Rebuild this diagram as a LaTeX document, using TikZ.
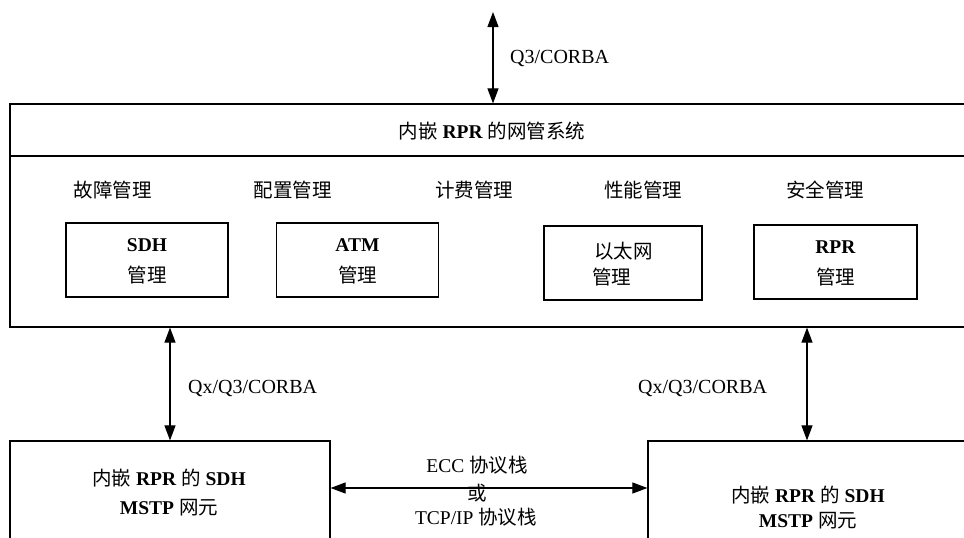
\documentclass[tikz,border=0pt]{standalone}
\usepackage{fontspec}
\setmainfont{Liberation Serif}
\newfontfamily\cjkfont{Noto Sans CJK SC}
\newcommand\zh[1]{{\cjkfont #1}}
\usetikzlibrary{arrows.meta}
\begin{document}
\begin{tikzpicture}[x=1pt,y=-1pt,
  frame/.style={draw, line width=1.2pt, inner sep=0pt},
  mbox/.style={draw, line width=1.2pt, minimum width=162pt, minimum height=74pt, inner sep=0pt},
  txt/.style={font=\fontsize{19.5}{22}\selectfont, inner sep=0pt},
  lbl/.style={font=\fontsize{20}{22}\selectfont, inner sep=0pt},
  link/.style={line width=1.1pt, {Triangle[length=15pt,width=11pt]}-{Triangle[length=15pt,width=11pt]}}
]
\useasboundingbox (0,0) rectangle (964,538);
\clip (0,0) rectangle (964,538);

% main management system box
\node[frame, minimum width=970pt, minimum height=223pt] (main) at (495,215.5) {};
\coordinate (dv) at (0,156);
\draw[line width=1.2pt] (main.west |- dv) -- (main.east |- dv);
\node[txt] (title) at (492,131) {\zh{内嵌} \textbf{RPR} \zh{的网管系统}};

% function labels
\node[txt] (f1) at (112.5,190) {\zh{故障管理}};
\node[txt] (f2) at (292.5,190) {\zh{配置管理}};
\node[txt] (f3) at (474,190) {\zh{计费管理}};
\node[txt] (f4) at (643,190) {\zh{性能管理}};
\node[txt] (f5) at (825,190) {\zh{安全管理}};

% management boxes
\node[mbox] (sdh) at (147,260) {};
\node[txt] (sdh1) at (147,245) {\textbf{SDH}};
\node[txt] (sdh2) at (147,275) {\zh{管理}};

\node[mbox] (atm) at (357.5,260) {};
\node[txt] (atm1) at (357.5,245) {\textbf{ATM}};
\node[txt] (atm2) at (357.5,275) {\zh{管理}};

\node[mbox, minimum width=158pt] (eth) at (623,263) {};
\node[txt] (eth1) at (623.5,251) {\zh{以太网}};
\node[txt, anchor=west] (eth2) at (592,277) {\zh{管理}};

\node[mbox, minimum width=163pt] (rpr) at (835.5,262) {};
\node[txt] (rpr1) at (835.5,247) {\textbf{RPR}};
\node[txt] (rpr2) at (835.5,277) {\zh{管理}};

% network elements
\node[frame, minimum width=320pt, minimum height=129pt] (lne) at (170,505.5) {};
\node[txt] (lne1) at (169,478) {\zh{内嵌} \textbf{RPR} \zh{的} \textbf{SDH}};
\node[txt] (lne2) at (169,508) {\textbf{MSTP} \zh{网元}};

\node[frame, minimum width=332pt, minimum height=129pt] (rne) at (814,505.5) {};
\node[txt] (rne1) at (808,495) {\zh{内嵌} \textbf{RPR} \zh{的} \textbf{SDH}};
\node[txt] (rne2) at (808,521) {\textbf{MSTP} \zh{网元}};

% connectors
\coordinate (ta) at (493,12);
\draw[link] (ta) -- (ta |- main.north);
\node[lbl, anchor=west] (tal) at (510,58) {Q3/CORBA};

\draw[link] (lne.north) -- (lne.north |- main.south);
\node[lbl, anchor=west] (lal) at (188,388) {Qx/Q3/CORBA};

\coordinate (ra) at (807,0);
\draw[link] (ra |- rne.north) -- (ra |- main.south);
\node[lbl, anchor=west] (ral) at (638,388) {Qx/Q3/CORBA};

\coordinate (ha) at (0,488);
\draw[link] (lne.east |- ha) -- (rne.west |- ha);
\node[txt] (m1) at (477,465) {ECC \zh{协议栈}};
\node[txt] (m2) at (477,493) {\zh{或}};
\node[txt] (m3) at (476,517) {TCP/IP \zh{协议栈}};
\end{tikzpicture}
\end{document}
